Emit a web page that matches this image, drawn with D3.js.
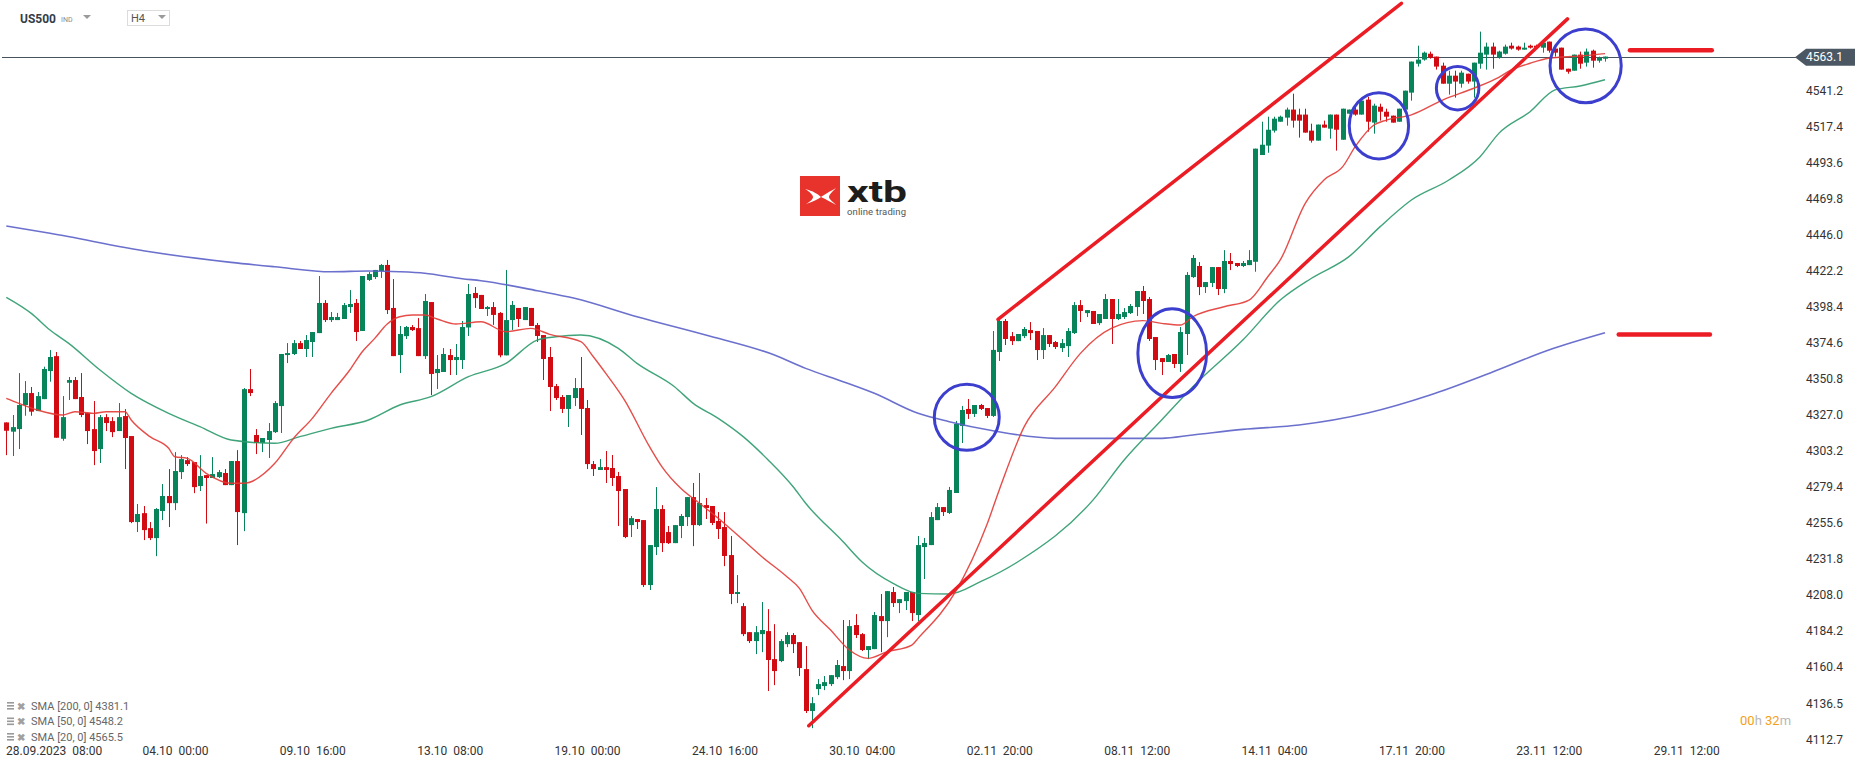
<!DOCTYPE html>
<html>
<head>
<meta charset="utf-8">
<script src="https://cdn.jsdelivr.net/npm/d3@7"></script>
<style>
  html, body { margin: 0; padding: 0; background: #fff; }
  svg { display: block; font-family: Roboto, "Noto Sans", sans-serif; }
</style>
</head>
<body>
<svg id="chart" width="1866" height="767"></svg>
<script>
// US500 H4 candles, [open, high, low, close]
const ohlc = [
  [4321.9,4321.9,4300.3,4316.4],[4315.8,4326.8,4299.7,4318.8],[4317.5,4354.5,4304.3,4333.4],[4333.4,4349.2,4326.3,4341.3],
  [4341.3,4345.3,4326.3,4329.0],[4329.4,4342.0,4329.4,4339.3],[4337.3,4358.7,4337.3,4357.2],[4355.8,4369.7,4348.8,4365.1],
  [4365.7,4368.4,4311.8,4311.8],[4311.1,4339.3,4309.8,4325.4],[4348.1,4351.9,4336.7,4349.9],[4349.9,4351.9,4337.3,4337.3],
  [4338.7,4354.5,4325.4,4326.8],[4328.1,4328.1,4307.6,4316.2],[4317.5,4336.0,4293.7,4303.0],[4304.3,4326.8,4295.1,4325.4],
  [4325.4,4327.4,4316.2,4321.5],[4322.8,4325.4,4312.2,4315.5],[4316.2,4334.7,4316.2,4325.4],[4326.1,4330.7,4291.1,4311.6],
  [4312.9,4312.9,4255.4,4256.1],[4256.1,4268.0,4249.5,4261.4],[4262.0,4266.7,4244.2,4250.8],[4252.1,4256.1,4244.2,4245.5],
  [4245.5,4265.3,4233.6,4264.7],[4263.4,4281.2,4257.4,4273.3],[4273.3,4291.1,4252.8,4268.6],[4268.6,4302.3,4264.0,4289.8],
  [4289.1,4300.3,4284.5,4297.7],[4297.0,4299.0,4293.1,4294.4],[4295.7,4295.7,4275.2,4279.2],[4279.9,4300.3,4276.6,4286.5],
  [4287.1,4287.1,4255.1,4285.2],[4285.2,4299.0,4285.2,4287.8],[4285.8,4290.5,4285.2,4289.1],[4288.5,4291.1,4280.5,4280.5],
  [4280.5,4296.4,4280.5,4296.4],[4296.4,4303.6,4240.9,4262.7],[4262.0,4344.6,4250.1,4343.9],[4343.9,4357.2,4339.3,4341.3],
  [4313.6,4317.5,4301.0,4308.3],[4308.3,4311.6,4302.3,4311.6],[4310.3,4321.5,4298.4,4316.2],[4315.5,4336.0,4314.9,4334.7],
  [4332.7,4367.1,4314.9,4367.1],[4366.4,4374.3,4361.1,4367.7],[4367.1,4376.3,4366.4,4374.3],[4374.3,4375.7,4370.4,4370.4],
  [4370.4,4379.6,4365.1,4376.3],[4375.0,4381.6,4365.1,4381.6],[4380.9,4418.6,4380.9,4400.8],[4400.8,4402.7,4388.2,4389.5],
  [4389.5,4394.8,4388.2,4391.5],[4389.5,4394.2,4389.5,4391.5],[4390.2,4400.8,4390.2,4399.4],[4398.1,4409.3,4394.2,4400.1],
  [4400.8,4403.4,4375.7,4381.6],[4382.3,4418.6,4382.3,4418.6],[4416.0,4421.2,4415.3,4419.9],[4417.9,4422.6,4416.6,4422.6],
  [4421.9,4426.5,4417.3,4425.9],[4425.9,4429.2,4393.5,4396.1],[4397.5,4416.6,4365.7,4365.7],[4366.4,4385.6,4354.5,4380.3],
  [4378.9,4385.6,4377.0,4384.9],[4384.9,4386.2,4382.3,4382.9],[4384.2,4390.8,4365.7,4365.7],[4365.7,4406.7,4363.8,4402.1],
  [4401.4,4401.4,4340.0,4353.9],[4354.5,4366.4,4344.0,4357.2],[4355.2,4371.0,4355.2,4367.1],[4366.4,4370.4,4353.2,4363.1],
  [4363.1,4373.7,4353.2,4365.1],[4363.1,4388.9,4357.2,4384.9],[4384.6,4413.3,4379.0,4406.7],[4407.4,4411.3,4397.5,4404.0],
  [4406.1,4406.1,4396.8,4396.8],[4396.8,4398.8,4392.2,4398.1],[4398.1,4401.4,4386.3,4392.9],[4394.2,4394.8,4364.9,4366.2],
  [4366.2,4422.6,4366.2,4389.5],[4389.5,4402.1,4383.0,4399.5],[4397.5,4397.5,4384.9,4390.2],[4389.5,4398.1,4389.5,4398.1],
  [4397.5,4397.5,4385.6,4385.6],[4386.2,4387.6,4375.0,4379.0],[4379.6,4379.6,4349.9,4363.8],[4365.1,4371.7,4329.4,4345.3],
  [4345.9,4347.3,4336.7,4338.0],[4338.7,4340.0,4328.1,4330.8],[4330.8,4340.0,4318.9,4340.0],[4338.0,4351.2,4332.7,4344.6],
  [4344.6,4365.1,4313.6,4330.8],[4331.4,4336.7,4291.1,4294.4],[4294.4,4296.4,4286.5,4291.1],[4290.5,4297.7,4290.5,4292.4],
  [4292.4,4303.0,4281.9,4290.5],[4291.8,4300.4,4279.9,4285.2],[4286.5,4289.2,4253.5,4276.6],[4277.9,4277.9,4245.5,4246.2],
  [4254.1,4260.1,4246.2,4258.7],[4258.1,4258.1,4251.5,4256.1],[4257.4,4257.4,4213.2,4214.5],[4214.5,4240.9,4211.2,4240.9],
  [4239.6,4279.2,4234.3,4264.7],[4264.7,4267.3,4236.3,4242.2],[4249.5,4253.5,4241.6,4242.2],[4242.2,4254.1,4242.2,4254.1],
  [4253.5,4261.4,4245.5,4260.1],[4259.4,4272.6,4253.5,4272.6],[4272.6,4281.9,4240.2,4254.1],[4254.1,4288.5,4253.5,4268.7],
  [4267.3,4272.0,4258.1,4265.4],[4266.7,4266.7,4254.1,4255.5],[4256.8,4262.7,4244.9,4251.5],[4252.8,4262.7,4227.0,4233.7],
  [4234.3,4246.9,4201.9,4208.6],[4208.6,4221.1,4202.6,4209.9],[4200.6,4202.6,4180.8,4182.1],[4183.4,4183.4,4176.2,4177.5],
  [4177.5,4187.4,4168.9,4183.4],[4182.1,4203.3,4170.2,4184.8],[4184.1,4198.6,4144.5,4165.0],[4165.6,4188.7,4148.4,4157.7],
  [4164.3,4178.8,4163.6,4177.5],[4175.5,4183.4,4173.5,4181.5],[4181.5,4182.8,4169.6,4175.5],[4176.8,4176.8,4154.4,4159.7],
  [4159.0,4174.2,4130.0,4131.3],[4131.3,4140.5,4120.0,4136.5],[4145.8,4152.4,4141.8,4149.1],[4147.8,4154.4,4145.1,4150.4],
  [4149.1,4155.0,4147.8,4155.0],[4153.7,4165.0,4152.4,4161.7],[4161.0,4191.4,4151.7,4157.7],[4157.7,4191.4,4152.4,4187.4],
  [4188.1,4195.3,4179.5,4181.5],[4182.1,4182.8,4170.9,4171.6],[4171.6,4174.2,4165.6,4174.2],[4172.2,4196.7,4172.2,4194.7],
  [4194.0,4208.6,4170.2,4190.7],[4190.7,4210.5,4180.1,4210.5],[4209.9,4213.2,4200.0,4202.6],[4202.6,4205.2,4196.0,4205.2],
  [4203.9,4209.9,4198.0,4209.9],[4209.9,4209.9,4190.7,4196.0],[4194.7,4246.9,4190.7,4240.9],[4239.6,4245.6,4218.5,4242.3],
  [4240.9,4262.7,4240.9,4259.4],[4257.4,4268.7,4257.4,4266.0],[4266.0,4266.0,4260.1,4262.7],[4262.1,4279.3,4261.4,4277.3],
  [4275.3,4322.9,4275.3,4320.9],[4319.6,4332.8,4308.3,4330.1],[4330.8,4337.4,4324.2,4327.5],[4327.5,4333.4,4325.5,4333.4],
  [4333.4,4334.1,4330.1,4330.8],[4331.4,4331.4,4324.8,4326.2],[4326.2,4382.3,4325.5,4369.8],[4368.4,4390.2,4362.5,4388.9],
  [4388.9,4390.2,4373.0,4377.0],[4378.9,4381.6,4373.0,4375.6],[4375.6,4380.3,4375.6,4380.3],[4378.9,4384.9,4377.6,4383.6],
  [4382.9,4388.2,4376.3,4380.9],[4382.3,4382.3,4363.1,4369.7],[4369.7,4384.2,4363.8,4379.6],[4379.6,4379.6,4371.7,4373.7],
  [4375.0,4375.7,4370.4,4371.7],[4371.0,4377.0,4368.4,4374.3],[4372.3,4384.2,4365.1,4382.3],[4380.9,4401.4,4380.3,4399.4],
  [4399.4,4402.7,4388.2,4395.5],[4394.1,4396.1,4391.5,4396.1],[4395.5,4395.5,4386.9,4386.9],[4387.5,4393.5,4386.2,4393.5],
  [4390.2,4406.7,4390.2,4403.4],[4403.4,4403.4,4373.7,4390.2],[4390.2,4403.4,4389.5,4393.5],[4391.5,4397.4,4390.2,4394.8],
  [4394.1,4400.1,4393.5,4398.8],[4398.1,4408.7,4392.2,4408.7],[4408.7,4412.0,4393.5,4402.1],[4403.4,4404.7,4375.7,4377.0],
  [4378.3,4378.3,4356.5,4363.1],[4364.4,4364.4,4353.2,4361.8],[4361.8,4367.1,4361.8,4366.4],[4367.1,4367.1,4357.8,4360.5],
  [4360.5,4384.9,4355.2,4381.6],[4380.3,4421.2,4366.4,4419.3],[4417.9,4432.5,4417.3,4430.5],[4425.2,4427.8,4406.0,4411.3],
  [4411.3,4414.6,4407.4,4414.6],[4414.0,4424.5,4411.3,4424.5],[4424.5,4424.5,4406.0,4410.0],[4410.0,4435.7,4407.3,4428.5],
  [4428.5,4433.8,4422.5,4426.5],[4427.2,4427.2,4424.5,4425.2],[4425.2,4428.5,4424.5,4427.2],[4425.8,4435.7,4425.8,4429.1],
  [4428.0,4502.7,4421.4,4502.7],[4498.5,4520.5,4498.5,4505.3],[4504.7,4523.8,4500.0,4515.2],[4514.6,4523.8,4513.3,4522.5],
  [4520.5,4524.5,4520.5,4523.8],[4523.2,4529.8,4517.9,4528.5],[4528.5,4539.0,4516.6,4521.2],[4525.2,4529.1,4510.0,4521.2],
  [4525.2,4529.1,4513.3,4513.3],[4514.6,4519.2,4506.7,4508.0],[4508.0,4518.6,4508.0,4518.6],[4518.6,4521.2,4516.6,4516.6],
  [4515.9,4525.2,4509.3,4525.2],[4525.2,4525.2,4501.4,4515.2],[4508.6,4529.1,4508.6,4529.1],[4525.8,4528.5,4525.8,4528.5],
  [4528.5,4531.8,4524.5,4525.2],[4525.2,4534.4,4525.2,4534.4],[4535.1,4537.0,4513.9,4520.5],[4519.9,4532.4,4512.6,4531.1],
  [4530.4,4532.4,4521.2,4527.1],[4527.1,4529.1,4520.5,4523.8],[4524.5,4524.5,4519.9,4519.9],[4520.5,4529.1,4520.5,4529.1],
  [4528.5,4541.0,4528.5,4541.0],[4539.7,4560.2,4534.4,4560.2],[4558.8,4570.7,4556.9,4561.5],[4561.5,4566.8,4560.8,4566.1],
  [4565.4,4566.8,4562.1,4562.8],[4563.5,4563.5,4554.9,4556.9],[4557.5,4559.5,4545.6,4545.6],[4545.6,4554.2,4538.4,4550.9],
  [4550.9,4554.2,4536.4,4547.0],[4545.6,4554.2,4543.0,4552.9],[4552.2,4552.2,4545.6,4547.0],[4547.0,4559.5,4536.4,4559.5],
  [4558.8,4580.0,4555.5,4566.1],[4564.8,4572.7,4554.9,4570.1],[4570.1,4572.7,4555.5,4564.8],[4562.8,4567.4,4562.1,4566.8],
  [4565.4,4571.4,4564.8,4570.1],[4570.7,4572.7,4568.1,4568.8],[4570.1,4570.7,4567.4,4568.1],[4568.1,4572.7,4568.1,4569.4],
  [4570.7,4571.4,4568.8,4569.4],[4570.7,4571.4,4568.8,4569.4],[4569.4,4574.0,4566.1,4572.7],[4573.4,4573.4,4566.1,4567.4],
  [4568.8,4568.8,4563.5,4566.1],[4569.4,4569.4,4554.9,4554.9],[4555.5,4555.5,4552.2,4553.5],[4554.2,4564.8,4554.2,4564.8],
  [4564.8,4566.8,4555.5,4558.8],[4559.5,4568.8,4556.9,4566.8],[4567.4,4568.1,4556.2,4560.8],[4560.8,4563.5,4559.5,4562.8],
  [4562.1,4563.5,4560.2,4563.5]
];

// moving averages read at points along each line: [candle index, price]
const sma200 = [[0,4451.6],[7,4446.8],[23,4434.6],[36,4427.6],[43,4424.7],[52,4421.4],[58,4421.9],[63,4421.4],[67,4420.4],
  [73,4416.8],[76,4415.5],[85,4408.9],[91,4403.9],[101,4391.7],[112,4379.6],[123,4366.4],[128,4357.6],[134,4348.8],
  [139,4341.1],[146,4327.9],[151,4322.4],[158,4316.4],[168,4311.4],[185,4311.4],[190,4313.6],[198,4317.3],[207,4320.2],
  [218,4328.1],[228,4340.0],[238,4355.2],[247,4369.7],[256,4381.1]];
const sma50 = [[0,4404.5],[4,4393.9],[7,4382.9],[10,4374.1],[15,4356.5],[20,4341.1],[26,4327.9],[31,4319.1],[36,4310.3],
  [43,4308.1],[47,4312.5],[52,4318.0],[58,4323.5],[63,4333.4],[68,4338.9],[74,4352.1],[80,4360.9],[85,4376.3],[88,4378.5],
  [92,4379.6],[98,4370.8],[101,4360.9],[107,4345.5],[110,4334.5],[114,4324.6],[118,4312.5],[122,4297.1],[126,4279.4],
  [128,4268.5],[134,4243.1],[137,4229.9],[142,4215.6],[146,4209.0],[151,4208.6],[156,4216.7],[162,4229.9],[174,4270.6],
  [179,4297.1],[185,4323.5],[190,4345.5],[198,4376.3],[204,4402.7],[209,4417.1],[215,4431.4],[220,4451.2],[225,4468.8],
  [231,4482.0],[236,4497.4],[239,4512.8],[244,4527.1],[248,4541.5],[252,4544.1],[256,4548.2]];
const sma20 = [[0,4337.8],[2,4334.5],[5,4330.1],[9,4326.8],[11,4329.0],[14,4327.9],[16,4329.0],[19,4329.0],[20,4323.5],
  [23,4312.5],[26,4304.8],[27,4299.2],[29,4298.2],[32,4288.3],[36,4281.7],[38,4281.7],[43,4294.9],[46,4311.4],[49,4324.6],
  [52,4341.1],[55,4356.5],[57,4368.6],[59,4377.4],[61,4386.9],[63,4391.7],[65,4392.8],[67,4392.8],[69,4390.2],[72,4386.9],
  [76,4388.4],[80,4381.8],[84,4384.0],[87,4380.1],[92,4375.2],[94,4365.3],[96,4354.3],[99,4336.7],[103,4305.9],[105,4292.6],
  [108,4278.4],[111,4268.5],[114,4258.6],[118,4244.2],[121,4233.2],[125,4220.0],[127,4212.3],[129,4198.0],[132,4184.8],
  [135,4171.6],[138,4166.1],[141,4170.4],[145,4174.9],[146,4179.3],[152,4210.1],[157,4254.1],[159,4277.3],[163,4319.1],
  [168,4345.5],[172,4367.5],[177,4384.1],[182,4389.1],[185,4387.3],[188,4386.2],[190,4391.7],[195,4398.3],[199,4402.7],
  [202,4418.1],[204,4429.2],[208,4466.6],[211,4482.0],[214,4490.8],[216,4504.0],[219,4518.3],[221,4521.6],[225,4525.0],
  [230,4534.8],[235,4542.6],[239,4549.8],[241,4554.7],[244,4559.1],[247,4562.4],[252,4563.9],[256,4565.5]];

const smaLegend = ["SMA [200, 0] 4381.1", "SMA [50, 0] 4548.2", "SMA [20, 0] 4565.5"];

const yTicks = [4541.2, 4517.4, 4493.6, 4469.8, 4446.0, 4422.2, 4398.4, 4374.6, 4350.8, 4327.0,
  4303.2, 4279.4, 4255.6, 4231.8, 4208.0, 4184.2, 4160.4, 4136.5, 4112.7];
const lastPrice = 4563.1;

const xTickIdx = [5, 27, 49, 71, 93, 115, 137, 159, 181, 203, 225, 247, 269];
const xTickLabels = ["28.09.2023  08:00", "04.10  00:00", "09.10  16:00", "13.10  08:00", "19.10  00:00",
  "24.10  16:00", "30.10  04:00", "02.11  20:00", "08.11  12:00", "14.11  04:00", "17.11  20:00",
  "23.11  12:00", "29.11  12:00"];

// drawn annotations, in [candle index, price]
const trendLines = [[[128.5, 4121.6], [250.0, 4588.4]], [[158.8, 4390.0], [223.4, 4598.7]]];
const levels = [[260.0, 273.1, 4567.7], [258.2, 272.8, 4380.0]];
// [centre index, centre price, half width in candles, half height in points]
const rings = [[153.8, 4325.3, 5.2, 21.8], [186.7, 4367.6, 5.5, 29.3], [219.8, 4517.8, 4.75, 21.9],
  [232.4, 4542.6, 3.4, 14.3], [252.9, 4557.4, 5.7, 24.3]];

(() => {
  const svg = d3.select("#chart");

  const x = d3.scaleLinear().domain([0, ohlc.length - 1]).range([6.3, 1605]);
  const y = d3.scaleLinear().domain([4112.7, lastPrice]).range([739.2, 57.2]);

  const green = "#07845a", red = "#d20a12";

  // current price line
  svg.append("line")
    .attr("x1", 2).attr("x2", 1796)
    .attr("y1", Math.round(y(lastPrice)) + 0.5).attr("y2", Math.round(y(lastPrice)) + 0.5)
    .attr("stroke", "#48525c").attr("stroke-width", 1);

  // logo
  const logo = svg.append("g").attr("transform", "translate(800,176)");
  logo.append("rect").attr("width", 40).attr("height", 40).attr("fill", "#e7332b");
  logo.append("path")
    .attr("d", "M5,13 C13,15 18,18 21,21 C18,23 13,26 6,28 C11,25 13,23 13,21 C13,19 10,16 5,13 Z M36,12 C29,16 25,18 21,21 C25,23 29,25 36,29 C32,25 29,23 29,21 C29,19 32,16 36,12 Z")
    .attr("fill", "#fff");
  svg.append("text").attr("x", 847).attr("y", 202).attr("font-size", 29).attr("font-weight", 700)
    .attr("fill", "#1d1d1b").attr("textLength", 60).attr("lengthAdjust", "spacingAndGlyphs").text("xtb");
  svg.append("text").attr("x", 847).attr("y", 215).attr("font-size", 9.5).attr("fill", "#555")
    .attr("textLength", 59).text("online trading");

  // candles
  const candle = svg.append("g").selectAll("g").data(ohlc).join("g")
    .attr("fill", d => d[3] >= d[0] ? green : red)
    .attr("stroke", d => d[3] >= d[0] ? green : red);
  candle.append("line")
    .attr("x1", (d, i) => Math.round(x(i)) + 0.5).attr("x2", (d, i) => Math.round(x(i)) + 0.5)
    .attr("y1", d => y(d[1])).attr("y2", d => y(d[2]))
    .attr("stroke-width", 1);
  candle.append("rect")
    .attr("x", (d, i) => Math.round(x(i)) - 2)
    .attr("width", 5)
    .attr("y", d => y(Math.max(d[0], d[3])))
    .attr("height", d => Math.max(1.5, Math.abs(y(d[0]) - y(d[3]))))
    .attr("stroke", "none");

  // moving averages
  const line = d3.line().x(d => x(d[0])).y(d => y(d[1])).curve(d3.curveMonotoneX);
  [[sma200, "#5b61c8", 1.6], [sma50, "#2b9a6b", 1.4], [sma20, "#e23a35", 1.4]].forEach(([pts, col, w]) => {
    svg.append("path").attr("d", line(pts)).attr("fill", "none")
      .attr("stroke", col).attr("stroke-width", w).attr("stroke-opacity", 0.9);
  });

  // annotations
  const ann = svg.append("g").attr("stroke", "#ec1c24").attr("stroke-linecap", "round").attr("fill", "none");
  ann.selectAll(".trend").data(trendLines).join("line").attr("class", "trend")
    .attr("x1", d => x(d[0][0])).attr("y1", d => y(d[0][1]))
    .attr("x2", d => x(d[1][0])).attr("y2", d => y(d[1][1]))
    .attr("stroke-width", 3.5);
  ann.selectAll(".level").data(levels).join("line").attr("class", "level")
    .attr("x1", d => x(d[0])).attr("x2", d => x(d[1]))
    .attr("y1", d => y(d[2])).attr("y2", d => y(d[2]))
    .attr("stroke-width", 4.5);

  svg.append("g").selectAll("ellipse").data(rings).join("ellipse")
    .attr("cx", d => x(d[0])).attr("cy", d => y(d[1]))
    .attr("rx", d => x(d[0] + d[2]) - x(d[0]))
    .attr("ry", d => y(d[1] - d[3]) - y(d[1]))
    .attr("fill", "none").attr("stroke", "#3c3fce").attr("stroke-width", 3);

  // price axis
  const yAxis = svg.append("g").attr("transform", "translate(1806,0)")
    .call(d3.axisRight(y).tickValues(yTicks).tickSize(0).tickPadding(0).tickFormat(d3.format(".1f")));
  yAxis.select(".domain").remove();
  yAxis.selectAll("text").attr("font-size", 12).attr("font-family", "Roboto").attr("fill", "#333");

  // last price tag
  const ly = y(lastPrice);
  svg.append("path")
    .attr("d", `M1795,${ly} L1806,${ly - 8.5} L1855,${ly - 8.5} L1855,${ly + 8.5} L1806,${ly + 8.5} Z`)
    .attr("fill", "#4b5863");
  svg.append("text").attr("x", 1806).attr("y", ly).attr("dy", "0.35em")
    .attr("font-size", 12).attr("fill", "#fff").text(d3.format(".1f")(lastPrice));

  // time axis
  const xAxis = svg.append("g").attr("transform", "translate(0,743)")
    .call(d3.axisBottom(x).tickValues(xTickIdx).tickSize(0).tickPadding(3)
      .tickFormat((d, i) => xTickLabels[i]));
  xAxis.select(".domain").remove();
  xAxis.selectAll("text").attr("font-size", 12).attr("font-family", "Roboto").attr("fill", "#333")
    .style("white-space", "pre");
  xAxis.selectAll(".tick text").each(function () {
    const b = this.getBBox();
    const tx = +this.parentNode.getAttribute("transform").match(/translate\(([-\d.]+)/)[1];
    if (tx + b.x < 6) d3.select(this).attr("x", 6 - tx - b.x);
  });

  // indicator legend
  const leg = svg.append("g").selectAll("g").data(smaLegend).join("g")
    .attr("transform", (d, i) => `translate(0,${706 + i * 15.5})`);
  leg.append("rect").attr("x", 7).attr("y", -4).attr("width", 7).attr("height", 1.6).attr("fill", "#9a9a9a");
  leg.append("rect").attr("x", 7).attr("y", -1).attr("width", 7).attr("height", 1.6).attr("fill", "#9a9a9a");
  leg.append("rect").attr("x", 7).attr("y", 2).attr("width", 7).attr("height", 1.6).attr("fill", "#9a9a9a");
  leg.append("text").attr("x", 17).attr("y", 0).attr("dy", "0.35em").attr("font-size", 10)
    .attr("font-weight", 700).attr("fill", "#a0a0a0").text("\u2716");
  leg.append("text").attr("x", 31).attr("y", 0).attr("dy", "0.35em").attr("font-size", 11)
    .attr("fill", "#666").text(d => d);

  // candle countdown
  const cd = svg.append("text").attr("x", 1740).attr("y", 725).attr("font-size", 13);
  cd.append("tspan").attr("fill", "#f5a01a").text("00");
  cd.append("tspan").attr("fill", "#b8b8b8").text("h ");
  cd.append("tspan").attr("fill", "#f5a01a").text("32");
  cd.append("tspan").attr("fill", "#b8b8b8").text("m");

  // header
  svg.append("text").attr("x", 20).attr("y", 23).attr("font-size", 12).attr("font-weight", 700)
    .attr("fill", "#333d47").text("US500");
  svg.append("text").attr("x", 61).attr("y", 22).attr("font-size", 7).attr("fill", "#8a8a8a").text("IND");
  svg.append("path").attr("d", "M83,15 L91,15 L87,19 Z").attr("fill", "#9a9a9a");
  svg.append("rect").attr("x", 127.5).attr("y", 10.5).attr("width", 42).attr("height", 15)
    .attr("fill", "#fff").attr("stroke", "#dcdcdc");
  svg.append("text").attr("x", 131).attr("y", 22).attr("font-size", 11).attr("fill", "#555").text("H4");
  svg.append("path").attr("d", "M158,15 L166,15 L162,19 Z").attr("fill", "#9a9a9a");
})();
</script>
</body>
</html>
